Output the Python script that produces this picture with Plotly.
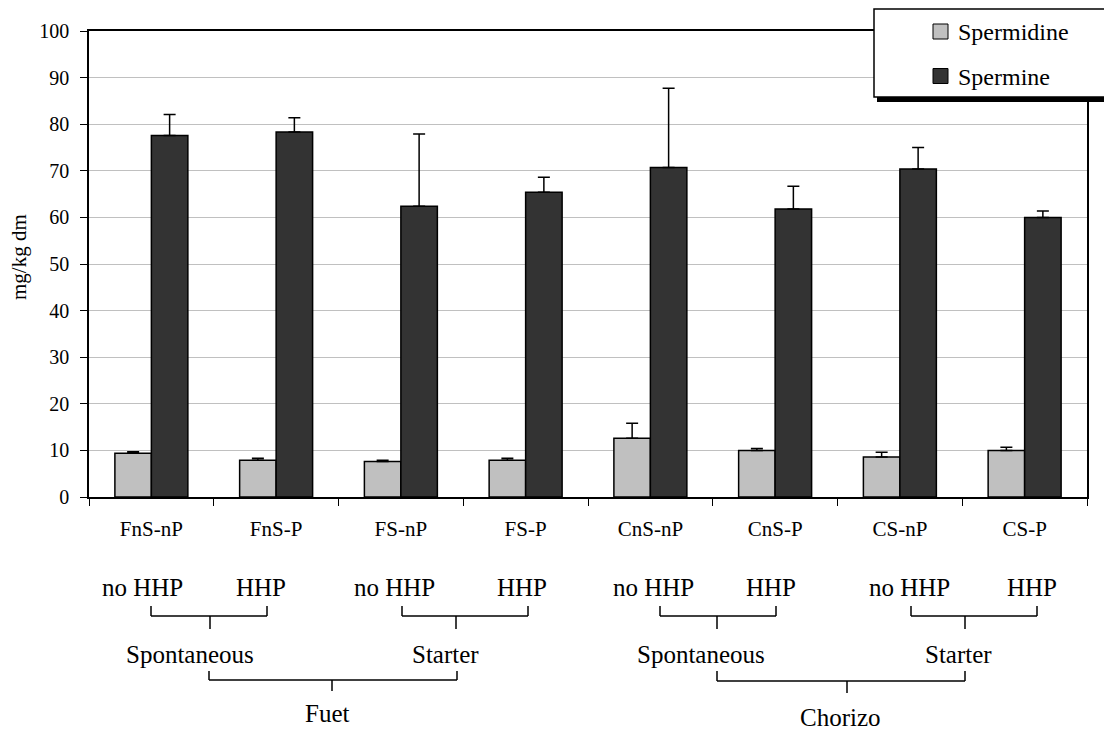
import plotly.graph_objects as go

categories = ["FnS-nP", "FnS-P", "FS-nP", "FS-P", "CnS-nP", "CnS-P", "CS-nP", "CS-P"]
spermidine = [9.4, 7.9, 7.6, 7.9, 12.6, 10.0, 8.6, 10.0]
spermidine_err = [0.3, 0.4, 0.3, 0.4, 3.2, 0.4, 1.0, 0.7]
spermine = [77.6, 78.3, 62.4, 65.4, 70.7, 61.8, 70.4, 60.0]
spermine_err = [4.5, 3.1, 15.5, 3.2, 17.0, 4.9, 4.6, 1.4]
y_ticks = [0, 10, 20, 30, 40, 50, 60, 70, 80, 90, 100]

# page body has an 8px margin, so the figure is drawn 8px smaller and
# all screen coordinates below are relative to the browser window
OFF = 8
W, H = 1112 - OFF, 736 - OFF
L, R, T, B = 89, 1087, 31, 497
FONT = "Liberation Serif, Times New Roman, serif"


def px(x):
    return (x - L) / (R - L)


def py(y):
    return (B - y) / (B - T)


fig = go.Figure()
fig.add_trace(go.Bar(
    x=categories, y=spermidine, name="Spermidine",
    marker=dict(color="#c0c0c0", line=dict(color="black", width=1.5)),
    error_y=dict(type="data", symmetric=False, array=spermidine_err,
                 arrayminus=[0] * len(spermidine), color="black", thickness=1.5, width=6),
))
fig.add_trace(go.Bar(
    x=categories, y=spermine, name="Spermine",
    marker=dict(color="#333333", line=dict(color="black", width=1.5)),
    error_y=dict(type="data", symmetric=False, array=spermine_err,
                 arrayminus=[0] * len(spermine), color="black", thickness=1.5, width=6),
))

shapes = []
annotations = []


def line(x0, y0, x1, y1, w=1.5):
    shapes.append(dict(type="line", xref="paper", yref="paper",
                       x0=px(x0), y0=py(y0), x1=px(x1), y1=py(y1),
                       line=dict(color="black", width=w)))


def text(x, y, s, size=25):
    annotations.append(dict(xref="paper", yref="paper", x=px(x), y=py(y), text=s,
                            showarrow=False, xanchor="center", yanchor="middle",
                            font=dict(family=FONT, size=size, color="black")))


# small brackets (HHP level)
for (xl, xr, xs) in [(151, 267, 210), (402, 528, 456), (660, 776, 717), (911, 1037, 965)]:
    line(xl, 606, xl, 616)
    line(xl, 616, xr, 616)
    line(xr, 606, xr, 616)
    line(xs, 616, xs, 629)

# big brackets
for (xl, xr, xs, yh, ye) in [(209, 457, 332, 680, 691), (717, 965, 847, 681, 693)]:
    line(xl, 671, xl, yh)
    line(xl, yh, xr, yh)
    line(xr, 671, xr, yh)
    line(xs, yh, xs, ye)

for (x, s) in [(142, "no HHP"), (261, "HHP"), (394, "no HHP"), (522, "HHP"),
               (653, "no HHP"), (771, "HHP"), (909, "no HHP"), (1032, "HHP")]:
    text(x, 587, s)
for (x, s) in [(190, "Spontaneous"), (445, "Starter"), (701, "Spontaneous"), (958, "Starter")]:
    text(x, 654, s)
text(327, 713, "Fuet")
text(840, 717, "Chorizo")

# y axis title
annotations.append(dict(xref="paper", yref="paper", x=px(19), y=py(257), text="mg/kg dm",
                        showarrow=False, textangle=-90, xanchor="center", yanchor="middle",
                        font=dict(family=FONT, size=21, color="black")))

# legend box with shadow
shapes.append(dict(type="rect", xref="paper", yref="paper", layer="above",
                   x0=px(877), x1=px(1125), y0=py(12), y1=py(102),
                   fillcolor="black", line=dict(width=0)))
shapes.append(dict(type="rect", xref="paper", yref="paper", layer="above",
                   x0=px(874), x1=px(1120), y0=py(9), y1=py(97),
                   fillcolor="white", line=dict(color="black", width=1.5)))
for (yc, col) in [(31.5, "#c0c0c0"), (76, "#333333")]:
    shapes.append(dict(type="rect", xref="paper", yref="paper", layer="above",
                       x0=px(933), x1=px(948), y0=py(yc - 7.5), y1=py(yc + 7.5),
                       fillcolor=col, line=dict(color="black", width=1)))
annotations.append(dict(xref="paper", yref="paper", x=px(956), y=py(32), text="Spermidine",
                        showarrow=False, xanchor="left", yanchor="middle",
                        font=dict(family=FONT, size=24, color="black")))
annotations.append(dict(xref="paper", yref="paper", x=px(956), y=py(77), text="Spermine",
                        showarrow=False, xanchor="left", yanchor="middle",
                        font=dict(family=FONT, size=24, color="black")))

fig.update_layout(
    width=W, height=H,
    margin=dict(l=L - OFF, r=W - (R - OFF), t=T - OFF, b=H - (B - OFF), autoexpand=False),
    paper_bgcolor="white", plot_bgcolor="white",
    barmode="group", bargap=0.415, bargroupgap=0,
    showlegend=False,
    font=dict(family=FONT, color="black"),
    shapes=shapes, annotations=annotations,
)
fig.update_xaxes(
    type="category", showline=True, linecolor="black", linewidth=1.5, mirror=True,
    ticks="outside", tickson="boundaries", ticklen=7, tickwidth=1.2, tickcolor="black",
    tickfont=dict(family=FONT, size=21, color="black"), ticklabelstandoff=12,
    showgrid=False, automargin=False,
)
fig.update_yaxes(
    range=[0, 100], tickvals=y_ticks, showline=True, linecolor="black", linewidth=1.5,
    mirror=True, ticks="outside", ticklen=7, tickwidth=1.2, tickcolor="black",
    tickfont=dict(family=FONT, size=20, color="black"), ticklabelstandoff=7,
    showgrid=True, gridcolor="#c0c0c0", gridwidth=1.3, zeroline=False, automargin=False,
)

fig.write_html("out.html")
